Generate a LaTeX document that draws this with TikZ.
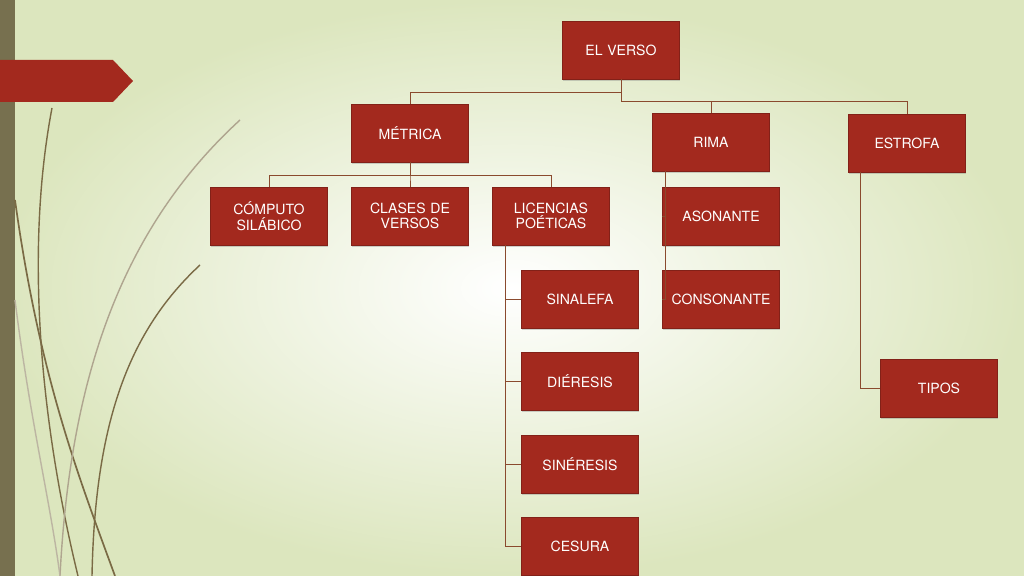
\documentclass[tikz,border=0pt]{standalone}
\usepackage{fontspec}
\setmainfont{TeX Gyre Heros}
\usetikzlibrary{positioning,shadows}
\definecolor{boxred}{HTML}{A3291E}
\definecolor{linebrown}{HTML}{8A4A2E}
\definecolor{bgpale}{HTML}{F7F9EE}
\definecolor{bgedge}{HTML}{DCE6BE}
\definecolor{sidebar}{HTML}{77704F}
\definecolor{vine}{HTML}{7A6A45}
\begin{document}
\begin{tikzpicture}[x=0.025cm, y=-0.025cm,
        box/.style={rectangle, draw=boxred!80!black, fill=boxred, text=white, minimum width=2.925cm, minimum height=1.45cm, text width=2.7cm, align=center, inner sep=1pt, font=\fontsize{10}{11}\selectfont, drop shadow={shadow xshift=0.5pt, shadow yshift=-1.5pt, opacity=0.35}},
        link/.style={draw=linebrown, line width=0.6pt}
    ]
        % Background
        \shade[inner color=white, outer color=bgedge] (0,0) rectangle (1024,576);
        \useasboundingbox (0,0) rectangle (1024,576);
        \fill[sidebar] (0,0) rectangle (15,576);
        \fill[boxred] (0,60) -- (113,60) -- (133,81) -- (113,102) -- (0,102) -- cycle;
        % Vines
        \draw[vine, line width=1.2pt] (15,200) .. controls (40,380) and (80,480) .. (115,576);
        \draw[vine, line width=1pt] (52,108) .. controls (25,250) and (40,420) .. (78,576);
        \draw[vine!60, line width=1pt] (240,120) .. controls (120,230) and (70,380) .. (60,576);
        \draw[vine, line width=1pt] (200,265) .. controls (130,330) and (95,420) .. (92,576);
        \draw[vine!50, line width=1pt] (15,300) .. controls (30,420) and (50,500) .. (60,576);

        % Top level
        \node[box] (verso) at (621,50) {EL VERSO};
        \node[box] (metrica) at (410,133) {MÉTRICA};
        \node[box] (rima) at (711,142) {RIMA};
        \node[box] (estrofa) at (907,143) {ESTROFA};

        % Metrica children
        \node[box] (computo) at (269,216) {CÓMPUTO SILÁBICO};
        \node[box] (clases) at (410,216) {CLASES DE VERSOS};
        \node[box] (licencias) at (551,216) {LICENCIAS POÉTICAS};

        % Licencias children
        \node[box] (sinalefa) at (580,299) {SINALEFA};
        \node[box] (dieresis) at (580,381) {DIÉRESIS};
        \node[box] (sineresis) at (580,464) {SINÉRESIS};
        \node[box] (cesura) at (580,546) {CESURA};

        % Rima and estrofa children
        \node[box] (asonante) at (721,216) {ASONANTE};
        \node[box] (consonante) at (721,299) {CONSONANTE};
        \node[box] (tipos) at (939,388) {TIPOS};

        % Connectors
        \draw[link] (verso.south) |- (410,92) -- (metrica.north);
        \draw[link] (verso.south) |- (711,101) -- (rima.north);
        \draw[link] (711,101) -| (estrofa.north);
        \foreach \n in {computo,clases,licencias}
            \draw[link] (metrica.south) |- (\n.north |- 0,175) -- (\n.north);
        \foreach \n in {sinalefa,dieresis,sineresis,cesura}
            \draw[link] (licencias.south -| 505,0) |- (\n.west);
        \foreach \n in {asonante,consonante}
            \draw[link] (rima.south -| 665,0) |- (\n.west);
        \draw[link] (estrofa.south -| 860,0) |- (tipos.west);
    \end{tikzpicture}
\end{document}
